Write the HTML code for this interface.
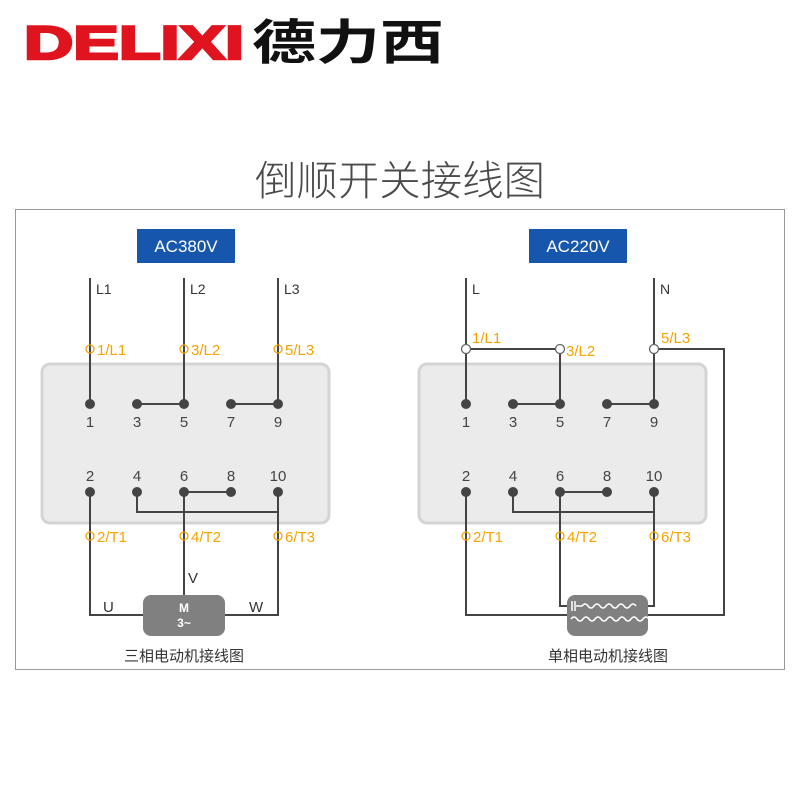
<!DOCTYPE html>
<html><head><meta charset="utf-8"><style>
body{margin:0;background:#fff;width:800px;height:800px;overflow:hidden}
svg text{font-family:"Liberation Sans","Noto Sans CJK SC",sans-serif}
</style></head><body>
<svg width="800" height="800" viewBox="0 0 800 800" xmlns="http://www.w3.org/2000/svg">
<text x="24" y="59" font-size="47" font-weight="bold" fill="#e0141e" stroke="#e0141e" stroke-width="2.5" textLength="220" lengthAdjust="spacingAndGlyphs" style="font-family:'Liberation Sans',sans-serif">DELIXI</text>
<text x="252" y="59" font-size="48" font-weight="bold" fill="#111" textLength="192" lengthAdjust="spacingAndGlyphs">德力西</text>
<text x="400" y="195" font-size="41" fill="#4a4a4a" text-anchor="middle" font-weight="300" textLength="290" lengthAdjust="spacingAndGlyphs">倒顺开关接线图</text>
<rect x="15.5" y="209.5" width="769" height="460" fill="#fff" stroke="#999" stroke-width="1"/>
<rect x="137" y="229" width="98" height="34" fill="#1756ad"/>
<text x="186" y="252" font-size="17" fill="#fff" text-anchor="middle">AC380V</text>
<rect x="529" y="229" width="98" height="34" fill="#1756ad"/>
<text x="578" y="252" font-size="17" fill="#fff" text-anchor="middle">AC220V</text>
<rect x="42" y="364" width="287" height="159" rx="8" fill="#ebebeb" stroke="#d4d4d4" stroke-width="3"/>
<rect x="419" y="364" width="287" height="159" rx="8" fill="#ebebeb" stroke="#d4d4d4" stroke-width="3"/>
<g stroke="#444" stroke-width="2" fill="none">
<path d="M90 278V404M184 278V404M278 278V404M137 404H184M231 404H278M184 492H231M137 492V512H278M278 492V615H225M90 492V615H143M184 492V595"/>
<path d="M466 278V404M654 278V404M466 349H560V404M513 404H560M607 404H654M560 492H607M513 492V512H654M654 349H724V615H648M466 492V615H567M560 492V606H575M654 492V606H648"/>
</g>
<g fill="#444">
<circle cx="90" cy="404" r="5"/><circle cx="137" cy="404" r="5"/><circle cx="184" cy="404" r="5"/><circle cx="231" cy="404" r="5"/><circle cx="278" cy="404" r="5"/>
<circle cx="90" cy="492" r="5"/><circle cx="137" cy="492" r="5"/><circle cx="184" cy="492" r="5"/><circle cx="231" cy="492" r="5"/><circle cx="278" cy="492" r="5"/>
<circle cx="466" cy="404" r="5"/><circle cx="513" cy="404" r="5"/><circle cx="560" cy="404" r="5"/><circle cx="607" cy="404" r="5"/><circle cx="654" cy="404" r="5"/>
<circle cx="466" cy="492" r="5"/><circle cx="513" cy="492" r="5"/><circle cx="560" cy="492" r="5"/><circle cx="607" cy="492" r="5"/><circle cx="654" cy="492" r="5"/>
</g>
<g font-size="15" fill="#444" text-anchor="middle">
<text x="90" y="427">1</text><text x="137" y="427">3</text><text x="184" y="427">5</text><text x="231" y="427">7</text><text x="278" y="427">9</text>
<text x="90" y="481">2</text><text x="137" y="481">4</text><text x="184" y="481">6</text><text x="231" y="481">8</text><text x="278" y="481">10</text>
<text x="466" y="427">1</text><text x="513" y="427">3</text><text x="560" y="427">5</text><text x="607" y="427">7</text><text x="654" y="427">9</text>
<text x="466" y="481">2</text><text x="513" y="481">4</text><text x="560" y="481">6</text><text x="607" y="481">8</text><text x="654" y="481">10</text>
</g>
<g font-size="14" fill="#333">
<text x="96" y="294">L1</text><text x="190" y="294">L2</text><text x="284" y="294">L3</text>
<text x="472" y="294">L</text><text x="660" y="294">N</text>
<text x="188" y="583" font-size="15">V</text><text x="103" y="612" font-size="15">U</text><text x="249" y="612" font-size="15">W</text>
</g>
<g fill="none" stroke="#f5a300" stroke-width="1.3">
<circle cx="90" cy="349" r="4"/><circle cx="184" cy="349" r="4"/><circle cx="278" cy="349" r="4"/>
<circle cx="90" cy="536" r="4"/><circle cx="184" cy="536" r="4"/><circle cx="278" cy="536" r="4"/>
<circle cx="466" cy="536" r="4"/><circle cx="560" cy="536" r="4"/><circle cx="654" cy="536" r="4"/>
</g>
<g fill="#fff" stroke="#666" stroke-width="1.3">
<circle cx="466" cy="349" r="4.5"/><circle cx="560" cy="349" r="4.5"/><circle cx="654" cy="349" r="4.5"/>
</g>
<g font-size="15" fill="#f5a300">
<text x="97" y="355">1/L1</text><text x="191" y="355">3/L2</text><text x="285" y="355">5/L3</text>
<text x="97" y="542">2/T1</text><text x="191" y="542">4/T2</text><text x="285" y="542">6/T3</text>
<text x="472" y="343">1/L1</text><text x="566" y="356">3/L2</text><text x="661" y="343">5/L3</text>
<text x="473" y="542">2/T1</text><text x="567" y="542">4/T2</text><text x="661" y="542">6/T3</text>
</g>
<rect x="143" y="595" width="82" height="41" rx="8" fill="#808080"/>
<text x="184" y="612" font-size="12" font-weight="bold" fill="#fff" text-anchor="middle">M</text>
<text x="184" y="627" font-size="12" font-weight="bold" fill="#fff" text-anchor="middle">3~</text>
<rect x="567" y="595" width="81" height="41" rx="8" fill="#808080"/>
<g stroke="#fff" stroke-width="1.5" fill="none">
<path d="M572 601V611M575 601V611M576 606H582q3-4 6 0t6 0t6 0t6 0t6 0t6 0t6 0t6 0t6 0"/>
<path d="M571 619q3-4 6 0t6 0t6 0t6 0t6 0t6 0t6 0t6 0t6 0t6 0t6 0t6 0t6 0"/>
</g>
<text x="184" y="661" font-size="15" fill="#333" text-anchor="middle">三相电动机接线图</text>
<text x="608" y="661" font-size="15" fill="#333" text-anchor="middle">单相电动机接线图</text>
</svg>
</body></html>
